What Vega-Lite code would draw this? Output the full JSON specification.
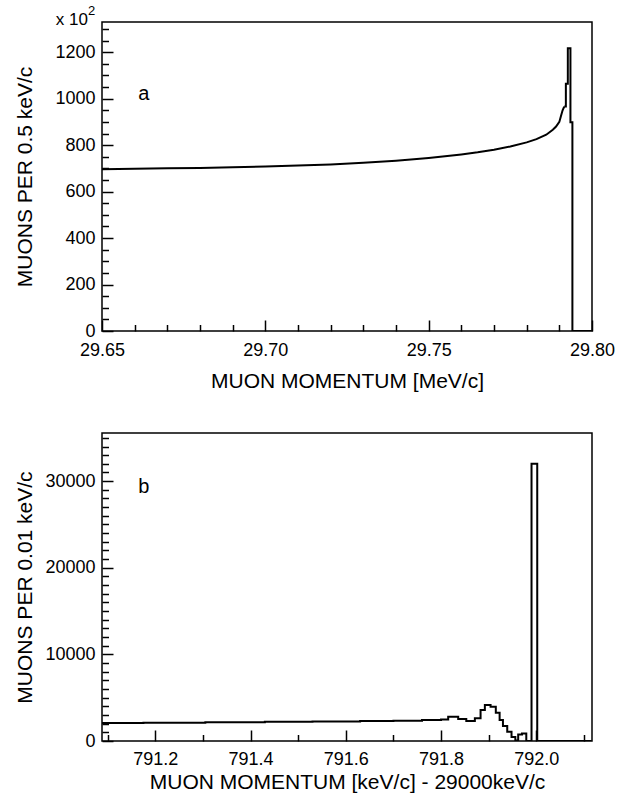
{
  "$schema": "https://vega.github.io/schema/vega-lite/v6.json",
  "padding": {"left": 14, "top": 4, "right": 5, "bottom": 5},
  "spacing": 40,
  "config": {
    "view": {"stroke": "black", "strokeWidth": 1.5},
    "font": "Liberation Sans",
    "axis": {
      "domain": false, "grid": false, "tickColor": "black", "tickWidth": 1.5,
      "labelColor": "black", "titleColor": "black",
      "labelFont": "Liberation Sans", "titleFont": "Liberation Sans",
      "labelFontSize": 18, "titleFontSize": 21, "titleFontWeight": "normal",
      "labelFlush": false, "labelOverlap": false
    }
  },
  "datasets": {
    "topSmooth": [
      {"p": 29.650, "n": 696}, {"p": 29.660, "n": 698}, {"p": 29.670, "n": 700},
      {"p": 29.680, "n": 702}, {"p": 29.690, "n": 705}, {"p": 29.700, "n": 708},
      {"p": 29.710, "n": 712}, {"p": 29.720, "n": 717}, {"p": 29.730, "n": 724},
      {"p": 29.740, "n": 733}, {"p": 29.750, "n": 745}, {"p": 29.755, "n": 752},
      {"p": 29.760, "n": 760}, {"p": 29.765, "n": 769}, {"p": 29.770, "n": 780},
      {"p": 29.775, "n": 794}, {"p": 29.780, "n": 812}, {"p": 29.783, "n": 826},
      {"p": 29.786, "n": 845}, {"p": 29.788, "n": 866}, {"p": 29.789, "n": 880},
      {"p": 29.790, "n": 900}, {"p": 29.7905, "n": 925}, {"p": 29.791, "n": 950},
      {"p": 29.7915, "n": 966}
    ],
    "topTail": [
      {"p": 29.7915, "n": 966}, {"p": 29.7920, "n": 1064}, {"p": 29.7926, "n": 1217},
      {"p": 29.7934, "n": 899}, {"p": 29.7940, "n": 0}, {"p": 29.7999, "n": 0}
    ],
    "bottomHist": [
      {"p": 791.088, "n": 2080}, {"p": 791.175, "n": 2120}, {"p": 791.305, "n": 2170},
      {"p": 791.430, "n": 2220}, {"p": 791.530, "n": 2260}, {"p": 791.630, "n": 2300},
      {"p": 791.700, "n": 2350}, {"p": 791.760, "n": 2420}, {"p": 791.800, "n": 2480},
      {"p": 791.815, "n": 2800}, {"p": 791.836, "n": 2540}, {"p": 791.853, "n": 2310},
      {"p": 791.871, "n": 2620}, {"p": 791.883, "n": 3580}, {"p": 791.892, "n": 4160},
      {"p": 791.904, "n": 3960}, {"p": 791.915, "n": 3270}, {"p": 791.923, "n": 2420},
      {"p": 791.930, "n": 1730}, {"p": 791.939, "n": 1070}, {"p": 791.948, "n": 450},
      {"p": 791.956, "n": 60}, {"p": 791.962, "n": 750}, {"p": 791.970, "n": 880},
      {"p": 791.979, "n": 0}, {"p": 791.990, "n": 32000}, {"p": 792.002, "n": 0},
      {"p": 792.116, "n": 0}
    ],
    "topLabels": [
      {"p": 29.6628, "n": 1022, "label": "a"}
    ],
    "topScale": [
      {"p": 29.65, "n": 1315, "label": "x 10", "part": "base"},
      {"p": 29.65, "n": 1315, "label": "2", "part": "exp"}
    ],
    "bottomLabels": [
      {"p": 791.1756, "n": 29330, "label": "b"}
    ]
  },
  "vconcat": [
    {
      "width": 490,
      "height": 309,
      "resolve": {"axis": {"x": "independent", "y": "independent"}},
      "layer": [
        {
          "data": {"name": "topSmooth"},
          "mark": {"type": "line", "color": "black", "strokeWidth": 2, "clip": true},
          "encoding": {
            "x": {"field": "p", "type": "quantitative",
              "scale": {"domain": [29.65, 29.80], "nice": false, "zero": false},
              "axis": {"orient": "bottom", "values": [29.65, 29.70, 29.75, 29.80], "format": ".2f",
                "tickSize": -11, "labelPadding": 21, "title": "MUON MOMENTUM [MeV/c]", "titlePadding": 11}},
            "y": {"field": "n", "type": "quantitative",
              "scale": {"domain": [0, 1330], "nice": false, "zero": false},
              "axis": {"orient": "left", "values": [0, 200, 400, 600, 800, 1000, 1200], "format": "d",
                "tickSize": -11, "labelPadding": 18, "title": "MUONS PER 0.5 keV/c", "titlePadding": 19}}
          }
        },
        {
          "data": {"name": "topTail"},
          "mark": {"type": "line", "color": "black", "strokeWidth": 2, "interpolate": "step-after", "clip": true},
          "encoding": {
            "x": {"field": "p", "type": "quantitative", "axis": null},
            "y": {"field": "n", "type": "quantitative", "axis": null}
          }
        },
        {
          "data": {"name": "topLabels"},
          "mark": {"type": "text", "fontSize": 20, "color": "black", "font": "Liberation Sans"},
          "encoding": {
            "x": {"field": "p", "type": "quantitative",
              "scale": {"domain": [29.65, 29.80], "nice": false, "zero": false},
              "axis": {"orient": "bottom", "values": [29.66, 29.67, 29.68, 29.69, 29.71, 29.72, 29.73, 29.74, 29.76, 29.77, 29.78, 29.79],
                "labels": false, "tickSize": -6.5, "title": null}},
            "y": {"field": "n", "type": "quantitative",
              "scale": {"domain": [0, 1330], "nice": false, "zero": false},
              "axis": {"orient": "left", "values": [50, 100, 150, 250, 300, 350, 450, 500, 550, 650, 700, 750, 850, 900, 950, 1050, 1100, 1150, 1250, 1300],
                "labels": false, "tickSize": -6.5, "title": null}},
            "text": {"field": "label"}
          }
        },
        {
          "data": {"name": "topScale"},
          "transform": [{"filter": "datum.part == 'base'"}],
          "mark": {"type": "text", "fontSize": 17, "color": "black", "align": "right", "baseline": "alphabetic", "dx": -14, "clip": false, "font": "Liberation Sans"},
          "encoding": {
            "x": {"field": "p", "type": "quantitative", "axis": null},
            "y": {"field": "n", "type": "quantitative", "axis": null},
            "text": {"field": "label"}
          }
        },
        {
          "data": {"name": "topScale"},
          "transform": [{"filter": "datum.part == 'exp'"}],
          "mark": {"type": "text", "fontSize": 13, "color": "black", "align": "left", "baseline": "alphabetic", "dx": -14, "dy": -10, "clip": false, "font": "Liberation Sans"},
          "encoding": {
            "x": {"field": "p", "type": "quantitative", "axis": null},
            "y": {"field": "n", "type": "quantitative", "axis": null},
            "text": {"field": "label"}
          }
        }
      ]
    },
    {
      "width": 490,
      "height": 308,
      "resolve": {"axis": {"x": "independent", "y": "independent"}},
      "layer": [
        {
          "data": {"name": "bottomHist"},
          "mark": {"type": "line", "color": "black", "strokeWidth": 2, "interpolate": "step-after", "clip": true},
          "encoding": {
            "x": {"field": "p", "type": "quantitative",
              "scale": {"domain": [791.088, 792.117], "nice": false, "zero": false},
              "axis": {"orient": "bottom", "values": [791.2, 791.4, 791.6, 791.8, 792.0], "format": ".1f",
                "tickSize": -11, "labelPadding": 20, "title": "MUON MOMENTUM [keV/c] - 29000keV/c", "titlePadding": 3}},
            "y": {"field": "n", "type": "quantitative",
              "scale": {"domain": [0, 35560], "nice": false, "zero": false},
              "axis": {"orient": "left", "values": [0, 10000, 20000, 30000], "format": "d",
                "tickSize": -11, "labelPadding": 18, "title": "MUONS PER 0.01 keV/c", "titlePadding": 9}}
          }
        },
        {
          "data": {"name": "bottomLabels"},
          "mark": {"type": "text", "fontSize": 20, "color": "black", "font": "Liberation Sans"},
          "encoding": {
            "x": {"field": "p", "type": "quantitative",
              "scale": {"domain": [791.088, 792.117], "nice": false, "zero": false},
              "axis": {"orient": "bottom", "values": [791.1, 791.3, 791.5, 791.7, 791.9, 792.1],
                "labels": false, "tickSize": -6.5, "title": null}},
            "y": {"field": "n", "type": "quantitative",
              "scale": {"domain": [0, 35560], "nice": false, "zero": false},
              "axis": {"orient": "left", "values": [1000, 2000, 3000, 4000, 5000, 6000, 7000, 8000, 9000, 11000, 12000, 13000, 14000, 15000, 16000, 17000, 18000, 19000, 21000, 22000, 23000, 24000, 25000, 26000, 27000, 28000, 29000, 31000, 32000, 33000, 34000, 35000],
                "labels": false, "tickSize": -6.5, "title": null}},
            "text": {"field": "label"}
          }
        }
      ]
    }
  ]
}
